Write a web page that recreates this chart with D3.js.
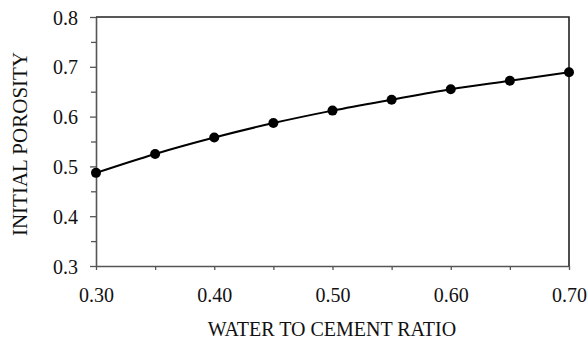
<!DOCTYPE html>
<html>
<head>
<meta charset="utf-8">
<script src="https://cdn.jsdelivr.net/npm/d3@7"></script>
<style>
  body { margin: 0; background: #fff; }
  text { font-family: "Liberation Serif", "Times New Roman", serif; fill: #111; }
</style>
</head>
<body>
<div id="chart"></div>
<script>
// data
const wcRatio = [0.30, 0.35, 0.40, 0.45, 0.50, 0.55, 0.60, 0.65, 0.70];
const porosity = [0.487, 0.525, 0.558, 0.587, 0.612, 0.634, 0.655, 0.672, 0.689];
const xTickLabels = ["0.30", "0.40", "0.50", "0.60", "0.70"];
const yTickLabels = ["0.3", "0.4", "0.5", "0.6", "0.7", "0.8"];

const width = 587, height = 340;
const margin = {top: 17, right: 18, bottom: 74, left: 96};

const svg = d3.select("#chart").append("svg")
  .attr("width", width)
  .attr("height", height);

const x = d3.scaleLinear().domain([0.30, 0.70]).range([margin.left, width - margin.right]);
const y = d3.scaleLinear().domain([0.3, 0.8]).range([height - margin.bottom, margin.top]);

const axisColor = "#555";

// minor ticks
const xMinor = d3.range(0.35, 0.70, 0.1);
const yMinor = d3.range(0.35, 0.8, 0.1);

svg.append("g")
  .attr("transform", `translate(0,${y(0.3)})`)
  .call(d3.axisBottom(x).tickValues(xMinor).tickSize(4).tickFormat(""))
  .call(g => g.select(".domain").remove())
  .call(g => g.selectAll("line").attr("stroke", axisColor).attr("stroke-width", 1.3));

svg.append("g")
  .attr("transform", `translate(${x(0.30)},0)`)
  .call(d3.axisLeft(y).tickValues(yMinor).tickSize(5).tickFormat(""))
  .call(g => g.select(".domain").remove())
  .call(g => g.selectAll("line").attr("stroke", axisColor).attr("stroke-width", 1.3));

// major axes
const xAxis = svg.append("g")
  .attr("transform", `translate(0,${y(0.3)})`)
  .call(d3.axisBottom(x).tickValues(xTickLabels.map(Number)).tickSize(4).tickSizeOuter(0)
    .tickFormat((d, i) => xTickLabels[i]));
xAxis.select(".domain").attr("stroke", axisColor).attr("stroke-width", 1.6);
xAxis.selectAll("line").attr("stroke", axisColor).attr("stroke-width", 1.3);
xAxis.selectAll("text").attr("font-size", 20).attr("y", 22).attr("dy", "0.71em")
  .attr("font-family", "Liberation Serif, serif").attr("fill", "#111");

const yAxis = svg.append("g")
  .attr("transform", `translate(${x(0.30)},0)`)
  .call(d3.axisLeft(y).tickValues(yTickLabels.map(Number)).tickSize(6).tickSizeOuter(0)
    .tickFormat((d, i) => yTickLabels[i]));
yAxis.select(".domain").attr("stroke", axisColor).attr("stroke-width", 1.6);
yAxis.selectAll("line").attr("stroke", axisColor).attr("stroke-width", 1.3);
yAxis.selectAll("text").attr("font-size", 20).attr("x", -18).attr("dy", "0.35em")
  .attr("font-family", "Liberation Serif, serif").attr("fill", "#111");

// top and right frame
svg.append("path")
  .attr("d", `M${x(0.30)},${y(0.8)}H${x(0.70)}V${y(0.3)}`)
  .attr("fill", "none")
  .attr("stroke", "#222")
  .attr("stroke-width", 1.6);

// series
const pts = wcRatio.map((d, i) => [d, porosity[i]]);
const line = d3.line().x(d => x(d[0])).y(d => y(d[1])).curve(d3.curveMonotoneX);

svg.append("path")
  .datum(pts)
  .attr("d", line)
  .attr("fill", "none")
  .attr("stroke", "#000")
  .attr("stroke-width", 2);

svg.append("g")
  .selectAll("circle")
  .data(pts)
  .join("circle")
  .attr("cx", d => x(d[0]))
  .attr("cy", d => y(d[1]))
  .attr("r", 5)
  .attr("fill", "#000");

// axis titles
svg.append("text")
  .attr("x", 332)
  .attr("y", 336)
  .attr("text-anchor", "middle")
  .attr("font-size", 20)
  .text("WATER TO CEMENT RATIO");

svg.append("text")
  .attr("transform", `translate(27,144) rotate(-90)`)
  .attr("text-anchor", "middle")
  .attr("font-size", 21)
  .text("INITIAL POROSITY");
</script>
</body>
</html>
